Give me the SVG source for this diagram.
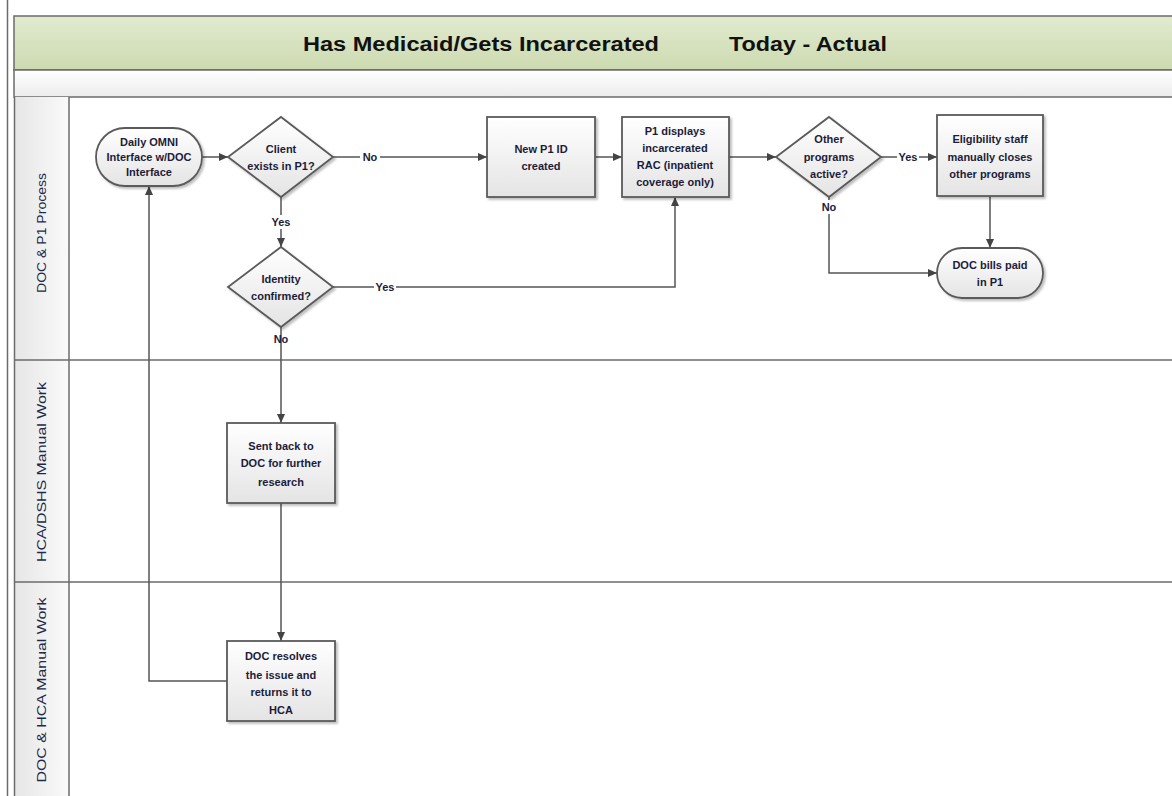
<svg xmlns="http://www.w3.org/2000/svg" width="1172" height="796" viewBox="0 0 1172 796">
<style>
.lane{fill:none;stroke:#6b6b6b;stroke-width:1.5}
.box{fill:url(#nodeGrad);stroke:#5a5a5a;stroke-width:1.8;filter:url(#shadow)}
.t{font-family:"Liberation Sans",Arial,sans-serif;font-weight:bold;font-size:11px;fill:#1c1c3a;text-anchor:middle}
.lbl{font-family:"Liberation Sans",Arial,sans-serif;font-weight:bold;font-size:11px;fill:#1c1c3a;text-anchor:middle}
.lanet{font-family:"Liberation Sans",Arial,sans-serif;font-size:13px;fill:#1f2a4a;text-anchor:middle}
.title{font-family:"Liberation Sans",Arial,sans-serif;font-weight:bold;font-size:20px;fill:#111;text-anchor:middle}
.c{fill:none;stroke:#555;stroke-width:1.5}
</style>
<defs>
<linearGradient id="nodeGrad" x1="0" y1="0" x2="0" y2="1">
<stop offset="0" stop-color="#ffffff"/><stop offset="1" stop-color="#e4e4e4"/>
</linearGradient>
<linearGradient id="titleGrad" x1="0" y1="0" x2="0" y2="1">
<stop offset="0" stop-color="#e1ebcf"/><stop offset="1" stop-color="#ccdab0"/>
</linearGradient>
<linearGradient id="subGrad" x1="0" y1="0" x2="0" y2="1">
<stop offset="0" stop-color="#ffffff"/><stop offset="1" stop-color="#ececec"/>
</linearGradient>
<linearGradient id="headGrad" x1="0" y1="0" x2="1" y2="0">
<stop offset="0" stop-color="#e6e6e6"/><stop offset="1" stop-color="#fafafa"/>
</linearGradient>
<filter id="shadow" x="-10%" y="-10%" width="130%" height="130%">
<feDropShadow dx="2" dy="2" stdDeviation="1.2" flood-color="#000" flood-opacity="0.25"/>
</filter>
<marker id="arr" markerWidth="10" markerHeight="10" refX="9" refY="5" orient="auto" markerUnits="userSpaceOnUse">
<path d="M0,1 L9,5 L0,9 Z" fill="#444"/>
</marker>
</defs>
<rect width="1172" height="796" fill="#fff"/>
<g id="pool">
<line x1="7.5" y1="0" x2="7.5" y2="796" class="lane"/>
<rect x="14" y="16" width="1170" height="54" fill="url(#titleGrad)" stroke="#6b6b6b" stroke-width="1.5"/>
<rect x="14" y="70" width="1170" height="27" fill="url(#subGrad)" stroke="#6b6b6b" stroke-width="1.5"/>
<text class="title" x="481" y="51" textLength="356" lengthAdjust="spacingAndGlyphs">Has Medicaid/Gets Incarcerated</text>
<text class="title" x="808" y="51" textLength="158" lengthAdjust="spacingAndGlyphs">Today - Actual</text>
<rect x="14" y="97" width="55" height="699" fill="url(#headGrad)"/>
<line x1="14.5" y1="97" x2="14.5" y2="796" class="lane"/>
<line x1="69" y1="97" x2="69" y2="796" class="lane"/>
<line x1="14" y1="360" x2="1172" y2="360" class="lane"/>
<line x1="14" y1="582" x2="1172" y2="582" class="lane"/>
</g>
<g id="lane1"><text class="lanet" transform="translate(46,233) rotate(-90)" textLength="120" lengthAdjust="spacingAndGlyphs">DOC &amp; P1 Process</text></g>
<g id="lane2"><text class="lanet" transform="translate(46,472) rotate(-90)" textLength="180" lengthAdjust="spacingAndGlyphs">HCA/DSHS Manual Work</text></g>
<g id="lane3"><text class="lanet" transform="translate(46,690) rotate(-90)" textLength="185" lengthAdjust="spacingAndGlyphs">DOC &amp; HCA Manual Work</text></g>

<g id="connectors">
<line class="c" x1="202" y1="157" x2="228" y2="157" marker-end="url(#arr)"/>
<line class="c" x1="333" y1="157" x2="487" y2="157" marker-end="url(#arr)"/>
<line class="c" x1="595" y1="157" x2="622" y2="157" marker-end="url(#arr)"/>
<line class="c" x1="729" y1="157" x2="776" y2="157" marker-end="url(#arr)"/>
<line class="c" x1="881" y1="157" x2="937" y2="157" marker-end="url(#arr)"/>
<line class="c" x1="990" y1="196" x2="990" y2="248" marker-end="url(#arr)"/>
<polyline class="c" points="829,214 829,273 937,273" marker-end="url(#arr)"/>
<line class="c" x1="829" y1="197" x2="829" y2="200"/>
<line class="c" x1="281" y1="197" x2="281" y2="247" marker-end="url(#arr)"/>
<polyline class="c" points="333,287 675,287 675,197" marker-end="url(#arr)"/>
<line class="c" x1="281" y1="327" x2="281" y2="423" marker-end="url(#arr)"/>
<line class="c" x1="281" y1="503" x2="281" y2="641" marker-end="url(#arr)"/>
<polyline class="c" points="227,681 149,681 149,186" marker-end="url(#arr)"/>
<rect x="360" y="150" width="20" height="14" fill="#fff"/>
<text class="lbl" x="370" y="161">No</text>
<rect x="897" y="150" width="22" height="14" fill="#fff"/>
<text class="lbl" x="908" y="161">Yes</text>
<rect x="270" y="215" width="22" height="14" fill="#fff"/>
<text class="lbl" x="281" y="226">Yes</text>
<rect x="374" y="280" width="22" height="14" fill="#fff"/>
<text class="lbl" x="385" y="291">Yes</text>
<text class="lbl" x="281" y="343">No</text>
<text class="lbl" x="829" y="211">No</text>
</g>

<g id="n-daily">
<rect class="box" x="96" y="128" width="106" height="58" rx="29"/>
<text class="t" x="149" y="146">Daily OMNI</text>
<text class="t" x="149" y="161">Interface w/DOC</text>
<text class="t" x="149" y="176">Interface</text>
</g>
<g id="n-client">
<polygon class="box" points="281,117 333,157 281,197 228,157"/>
<text class="t" x="281" y="153">Client</text>
<text class="t" x="281" y="170">exists in P1?</text>
</g>
<g id="n-newid">
<rect class="box" x="487" y="117" width="108" height="80"/>
<text class="t" x="541" y="153">New P1 ID</text>
<text class="t" x="541" y="170">created</text>
</g>
<g id="n-p1disp">
<rect class="box" x="622" y="117" width="107" height="80"/>
<text class="t" x="675" y="135">P1 displays</text>
<text class="t" x="675" y="152">incarcerated</text>
<text class="t" x="675" y="169">RAC (inpatient</text>
<text class="t" x="675" y="186">coverage only)</text>
</g>
<g id="n-other">
<polygon class="box" points="829,117 881,157 829,197 776,157"/>
<text class="t" x="829" y="143">Other</text>
<text class="t" x="829" y="161">programs</text>
<text class="t" x="829" y="178">active?</text>
</g>
<g id="n-elig">
<rect class="box" x="937" y="115" width="106" height="81"/>
<text class="t" x="990" y="143">Eligibility staff</text>
<text class="t" x="990" y="161">manually closes</text>
<text class="t" x="990" y="178">other programs</text>
</g>
<g id="n-bills">
<rect class="box" x="937" y="248" width="106" height="50" rx="25"/>
<text class="t" x="990" y="269">DOC bills paid</text>
<text class="t" x="990" y="286">in P1</text>
</g>
<g id="n-identity">
<polygon class="box" points="281,247 333,287 281,327 228,287"/>
<text class="t" x="281" y="283">Identity</text>
<text class="t" x="281" y="300">confirmed?</text>
</g>
<g id="n-sent">
<rect class="box" x="227" y="423" width="108" height="80"/>
<text class="t" x="281" y="450">Sent back to</text>
<text class="t" x="281" y="467">DOC for further</text>
<text class="t" x="281" y="486">research</text>
</g>
<g id="n-resolve">
<rect class="box" x="227" y="641" width="108" height="80"/>
<text class="t" x="281" y="660">DOC resolves</text>
<text class="t" x="281" y="679">the issue and</text>
<text class="t" x="281" y="696">returns it to</text>
<text class="t" x="281" y="714">HCA</text>
</g>
</svg>
